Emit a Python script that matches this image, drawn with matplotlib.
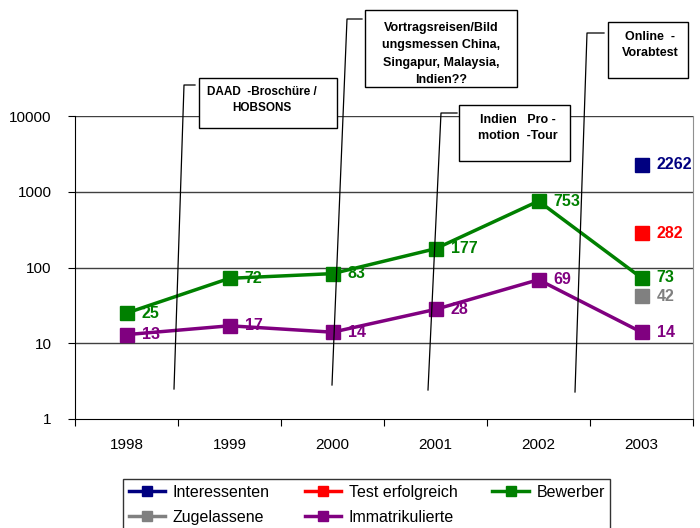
import numpy as np
import matplotlib
matplotlib.use('Agg')
import matplotlib.pyplot as plt
from matplotlib.patches import Rectangle

plt.rcParams['font.family'] = ['Liberation Sans', 'DejaVu Sans']

# data
years = ['1998', '1999', '2000', '2001', '2002', '2003']
bewerber = [25, 72, 83, 177, 753, 73]
immatrikulierte = [13, 17, 14, 28, 69, 14]
interessenten_2003 = 2262
test_2003 = 282
zugelassene_2003 = 42

c_int = '#000080'
c_test = '#ff0000'
c_bew = '#008000'
c_zug = '#808080'
c_imm = '#800080'

fig = plt.figure(figsize=(7, 5.28), dpi=100)
ax = fig.add_axes([75/700, 1 - 419/528, 618/700, 303/528])

x = np.arange(len(years))
ms = 10.5
lw = 2.5

ax.plot(x, bewerber, color=c_bew, marker='s', ms=ms, lw=lw, label='Bewerber')
ax.plot(x, immatrikulierte, color=c_imm, marker='s', ms=ms, lw=lw, label='Immatrikulierte')
ax.plot([x[-1]], [interessenten_2003], color=c_int, marker='s', ms=ms, lw=lw, label='Interessenten')
ax.plot([x[-1]], [test_2003], color=c_test, marker='s', ms=ms, lw=lw, label='Test erfolgreich')
ax.plot([x[-1]], [zugelassene_2003], color=c_zug, marker='s', ms=ms, lw=lw, label='Zugelassene')

# data labels
def lab(xi, v, c):
    ax.annotate(str(v), (xi, v), xytext=(11, 0), textcoords='offset points',
                color=c, fontsize=11.5, fontweight='bold', va='center', ha='left')

for i in range(len(years)):
    lab(i, bewerber[i], c_bew)
    lab(i, immatrikulierte[i], c_imm)
lab(5, interessenten_2003, c_int)
lab(5, test_2003, c_test)
lab(5, zugelassene_2003, c_zug)

ax.set_yscale('log')
ax.set_ylim(1, 10000)
ax.set_xlim(-0.5, 5.5)
ax.set_yticks([1, 10, 100, 1000, 10000])
ax.set_yticklabels(['1', '10', '100', '1000', '10000'])
ax.yaxis.set_minor_locator(matplotlib.ticker.NullLocator())
ax.tick_params(axis='y', which='major', length=5, pad=12, labelsize=11, direction='out')

ax.set_xticks(np.arange(-0.5, 6, 1))
ax.set_xticklabels([])
ax.set_xticks(x, minor=True)
ax.set_xticklabels(years, minor=True)
ax.tick_params(axis='x', which='major', length=5, direction='out')
ax.tick_params(axis='x', which='minor', length=0, pad=14, labelsize=11)

for v in [10, 100, 1000, 10000]:
    ax.axhline(v, color='#404040', lw=1, zorder=0)

ax.spines['top'].set_visible(False)
ax.spines['right'].set_color('#909090')
ax.spines['left'].set_color('black')
ax.spines['bottom'].set_color('black')

# overlay for callout boxes (pixel coordinates)
ov = fig.add_axes([0, 0, 1, 1], zorder=5)
ov.set_xlim(0, 700)
ov.set_ylim(528, 0)
ov.axis('off')
ov.patch.set_alpha(0)

boxes = [
    ((199, 78, 138, 50), 'DAAD  -Broschüre /\nHOBSONS', (262, 100), 8.5, 1.5,
     [(195, 85), (184, 85), (174, 389)]),
    ((365, 10, 152, 77), 'Vortragsreisen/Bild\nungsmessen China,\nSingapur, Malaysia,\nIndien??', (441, 54), 9, 1.6,
     [(362, 19), (347, 19), (332, 385)]),
    ((459, 105, 111, 56), 'Indien   Pro -\nmotion  -Tour', (518, 128), 9, 1.5,
     [(457, 113), (441, 113), (428, 390)]),
    ((608, 22, 80, 56), 'Online  -\nVorabtest', (650, 45), 9, 1.4,
     [(604, 33), (587, 33), (575, 392)]),
]
for (bx, by, bw, bh), txt, (tx, ty), fs, ls, pts in boxes:
    ov.add_patch(Rectangle((bx, by), bw, bh, facecolor='white', edgecolor='black', lw=1))
    ov.text(tx, ty, txt, ha='center', va='center', fontsize=fs, fontweight='bold',
            linespacing=ls)
    ov.plot([p[0] for p in pts], [p[1] for p in pts], color='black', lw=0.9)

# legend
h = {l.get_label(): l for l in ax.get_lines()}
order = ['Interessenten', 'Zugelassene', 'Test erfolgreich', 'Immatrikulierte', 'Bewerber']
leg = fig.legend([h[k] for k in order], order, ncol=3, loc='upper left',
                 bbox_to_anchor=(115/700, 1 - 471/528), fontsize=11.5, frameon=True,
                 fancybox=False, edgecolor='black', handlelength=2.3, columnspacing=2.2,
                 handletextpad=0.45, borderpad=0.35, labelspacing=0.65, markerscale=0.75)
leg.get_frame().set_linewidth(1)

plt.savefig('out.png', dpi=100)
